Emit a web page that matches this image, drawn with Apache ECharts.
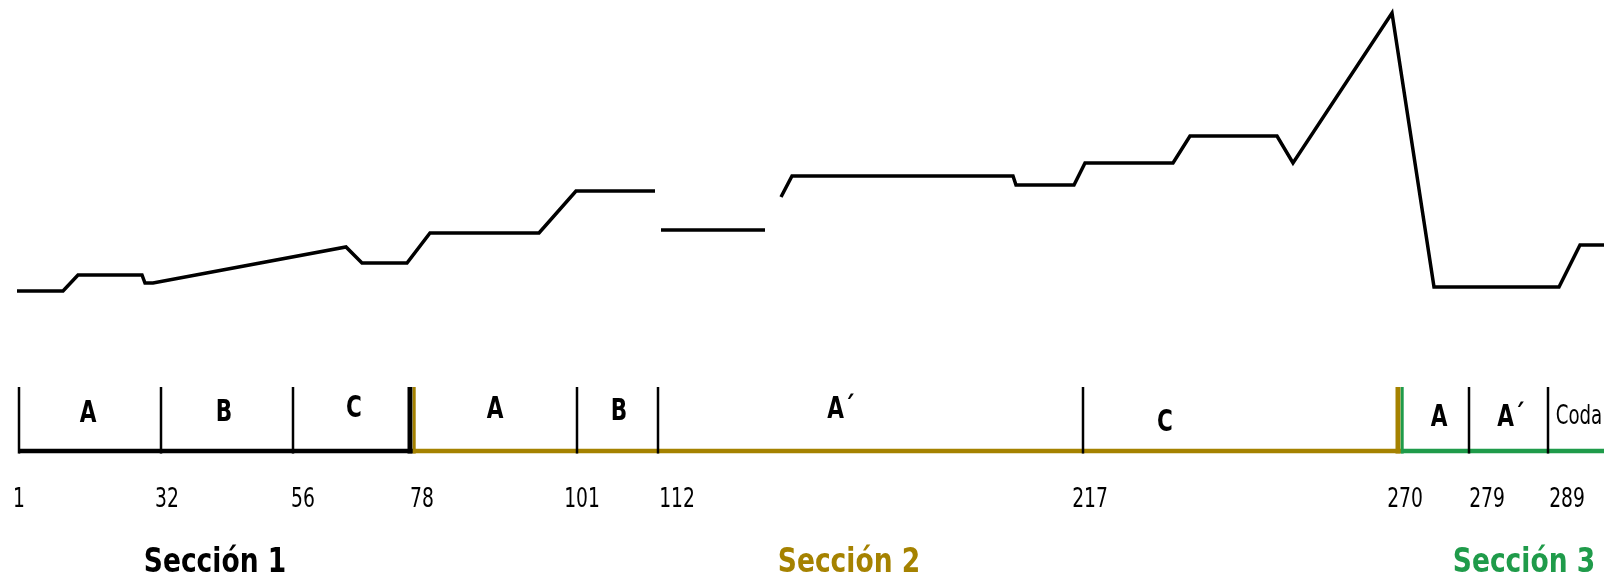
<!DOCTYPE html>
<html>
<head>
<meta charset="utf-8">
<title>Secciones</title>
<script src="https://cdn.jsdelivr.net/npm/echarts@6.0.0/dist/echarts.min.js"></script>
<style>
    html, body {margin: 0; padding: 0; background: #fff;}
    #chart {width: 1604px; height: 582px;}
</style>
</head>
<body>
<div id="chart"></div>
<script>
// perfil: posicion en el esquema / nivel (null = corte de la linea)
var profileX = [17, 63, 78, 142, 145, 153, 346, 362, 407, 430, 539, 576, 655, null,
    661, 765, null,
    781, 792, 1013, 1016, 1074, 1085, 1173, 1190, 1277, 1293, 1392, 1434, 1559, 1580, 1604];
var profileLevel = [29, 29, 45, 45, 37, 37, 73, 57, 57, 87, 87, 129, 129, null,
    90, 90, null,
    123, 144, 144, 135, 135, 157, 157, 184, 184, 157, 307, 33, 33, 75, 75];

// compases que marcan cada parte
var barNumbers = [1, 32, 56, 78, 101, 112, 217, 270, 279, 289];
var barTickX = [19, 161, 293, 410, 577, 658, 1083, 1398, 1469, 1548];
var barLabelX = [19, 167, 303, 422, 582, 677, 1090, 1405, 1487, 1567];

// partes
var partNames = ['A', 'B', 'C', 'A', 'B', 'A´', 'C', 'A', 'A´', 'Coda'];
var partX = [88, 224, 354, 495, 619, 841, 1165, 1439, 1511, 1579];
var partY = [0.58, 0.59, 0.66, 0.63, 0.60, 0.63, 0.44, 0.52, 0.52, 0.53];

// secciones
var sectionNames = ['Sección 1', 'Sección 2', 'Sección 3'];
var sectionFirstTick = [0, 3, 7];
var sectionEndX = 1604;
var sectionTitleX = [215, 849, 1524];

var sectionColors = ['#000000', '#A58200', '#1F9B4A'];
var fontFace = "'DejaVu Sans', sans-serif";

function sectionOfTick(i) {
    var s = 0;
    for (var k = 0; k < sectionFirstTick.length; k++) {
        if (i >= sectionFirstTick[k]) s = k;
    }
    return s;
}

// texto estrecho (la fuente original es condensada)
function textRender(getStyle) {
    return function (params, api) {
        var pt = api.coord([api.value(0), api.value(1)]);
        var st = getStyle(params.dataIndex);
        return {
            type: 'text',
            x: pt[0],
            y: pt[1],
            scaleX: st.scaleX,
            style: {
                text: st.text,
                fill: st.color,
                fontFamily: fontFace,
                fontWeight: st.weight,
                fontSize: st.size,
                align: 'center',
                verticalAlign: 'middle'
            }
        };
    };
}

// datos de la linea
var profileData = [];
for (var i = 0; i < profileX.length; i++) {
    if (profileX[i] == null) {
        profileData.push(['-', '-']);
    } else {
        profileData.push([profileX[i], profileLevel[i]]);
    }
}

// lineas de base por seccion
var baseSeries = [];
for (var s = 0; s < sectionNames.length; s++) {
    var x0 = barTickX[sectionFirstTick[s]];
    var x1 = s + 1 < sectionNames.length ? barTickX[sectionFirstTick[s + 1]] : sectionEndX;
    if (s > 0) x0 += 3;
    if (s + 1 < sectionNames.length) x1 += 3;
    baseSeries.push({
        type: 'line',
        xAxisIndex: 1,
        yAxisIndex: 1,
        symbol: 'none',
        silent: true,
        z: 2,
        lineStyle: {color: sectionColors[s], width: 4.5, cap: 'butt'},
        data: [[x0, 0], [x1, 0]]
    });
}

var tickData = [];
for (var i = 0; i < barTickX.length; i++) {
    tickData.push([barTickX[i], sectionOfTick(i), sectionFirstTick.indexOf(i) > 0 ? 1 : 0]);
}

var barLabelData = [];
for (var i = 0; i < barNumbers.length; i++) {
    barLabelData.push([barLabelX[i], -0.77]);
}

var partData = [];
for (var i = 0; i < partNames.length; i++) {
    partData.push([partX[i], partY[i]]);
}

var sectionData = [];
for (var i = 0; i < sectionNames.length; i++) {
    sectionData.push([sectionTitleX[i], -1.75]);
}

var myChart = echarts.init(document.getElementById('chart'));
myChart.setOption({
    animation: false,
    backgroundColor: '#ffffff',
    grid: [
        {left: 0, right: 0, top: 0, height: 320},
        {left: 0, right: 0, top: 387, height: 192}
    ],
    xAxis: [
        {type: 'value', gridIndex: 0, min: 0, max: 1604, show: false},
        {type: 'value', gridIndex: 1, min: 0, max: 1604, show: false}
    ],
    yAxis: [
        {type: 'value', gridIndex: 0, min: 0, max: 320, show: false},
        {type: 'value', gridIndex: 1, min: -2, max: 1, show: false}
    ],
    series: [
        {
            name: 'perfil',
            type: 'line',
            xAxisIndex: 0,
            yAxisIndex: 0,
            symbol: 'none',
            connectNulls: false,
            lineStyle: {color: '#000', width: 3.5, join: 'miter'},
            data: profileData
        }
    ].concat(baseSeries).concat([
        {
            name: 'compases',
            type: 'custom',
            xAxisIndex: 1,
            yAxisIndex: 1,
            z: 3,
            renderItem: function (params, api) {
                var top = api.coord([api.value(0), 1]);
                var bottom = api.coord([api.value(0), -0.04]);
                var sec = api.value(1);
                if (api.value(2) == 1) {
                    // cambio de seccion: color anterior + color nuevo
                    return {
                        type: 'group',
                        children: [
                            {
                                type: 'line',
                                shape: {x1: top[0], y1: top[1], x2: bottom[0], y2: bottom[1]},
                                style: {stroke: sectionColors[sec - 1], lineWidth: 5}
                            },
                            {
                                type: 'line',
                                shape: {x1: top[0] + 4.2, y1: top[1], x2: bottom[0] + 4.2, y2: bottom[1]},
                                style: {stroke: sectionColors[sec], lineWidth: 3}
                            }
                        ]
                    };
                }
                return {
                    type: 'line',
                    shape: {x1: top[0], y1: top[1], x2: bottom[0], y2: bottom[1]},
                    style: {stroke: '#000', lineWidth: 2.5}
                };
            },
            data: tickData
        },
        {
            name: 'partes',
            type: 'custom',
            xAxisIndex: 1,
            yAxisIndex: 1,
            silent: true,
            renderItem: textRender(function (i) {
                if (partNames[i] == 'Coda') {
                    return {text: partNames[i], color: '#000', weight: 'normal', size: 26, scaleX: 0.7};
                }
                return {text: partNames[i], color: '#000', weight: 'bold', size: 30, scaleX: 0.72};
            }),
            data: partData
        },
        {
            name: 'numeros',
            type: 'custom',
            xAxisIndex: 1,
            yAxisIndex: 1,
            silent: true,
            renderItem: textRender(function (i) {
                return {text: String(barNumbers[i]), color: '#000', weight: 'normal', size: 26, scaleX: 0.72};
            }),
            data: barLabelData
        },
        {
            name: 'secciones',
            type: 'custom',
            xAxisIndex: 1,
            yAxisIndex: 1,
            silent: true,
            renderItem: textRender(function (i) {
                return {text: sectionNames[i], color: sectionColors[i], weight: 'bold', size: 34, scaleX: 0.78};
            }),
            data: sectionData
        }
    ])
});
</script>
</body>
</html>
